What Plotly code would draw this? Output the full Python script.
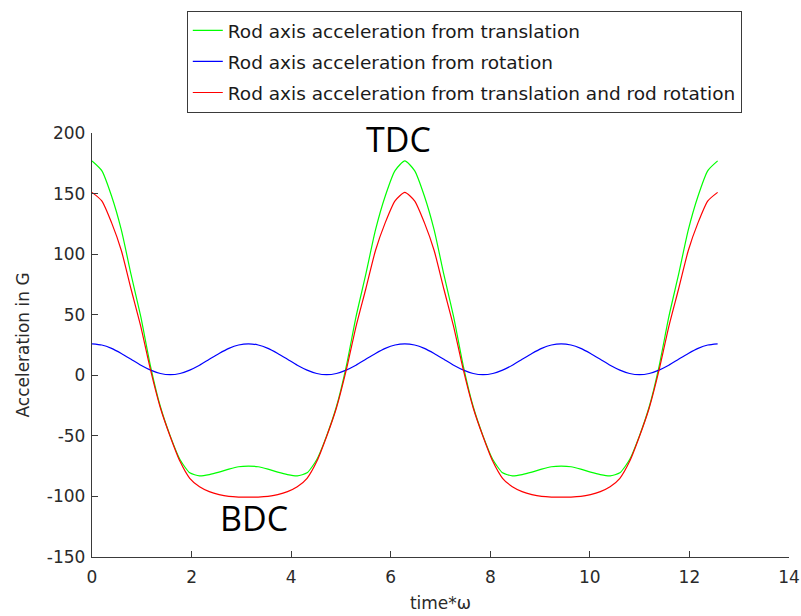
import numpy as np
import plotly.graph_objects as go

# angle samples (time*omega), step pi/16 over two revolutions
time_omega = [k * np.pi / 16 for k in range(65)]

accel_translation = [
    177, 169, 148, 120, 83, 48, 7, -26, -50, -69.5, -80.5, -83, -82, -80, -77.5, -75.5, -75,
    -75.5, -77.5, -80, -82, -83, -80.5, -69.5, -50, -26, 7, 48, 83, 120, 148, 169, 177,
    169, 148, 120, 83, 48, 7, -26, -50, -69.5, -80.5, -83, -82, -80, -77.5, -75.5, -75,
    -75.5, -77.5, -80, -82, -83, -80.5, -69.5, -50, -26, 7, 48, 83, 120, 148, 169, 177,
]
accel_rotation = [
    26, 25, 22.2, 18, 13.2, 8.3, 4.3, 1.5, 0.5, 1.5, 4.3, 8.3, 13.2, 18, 22.2, 25, 26,
    25, 22.2, 18, 13.2, 8.3, 4.3, 1.5, 0.5, 1.5, 4.3, 8.3, 13.2, 18, 22.2, 25, 26,
    25, 22.2, 18, 13.2, 8.3, 4.3, 1.5, 0.5, 1.5, 4.3, 8.3, 13.2, 18, 22.2, 25, 26,
    25, 22.2, 18, 13.2, 8.3, 4.3, 1.5, 0.5, 1.5, 4.3, 8.3, 13.2, 18, 22.2, 25, 26,
]
accel_combined = [
    151, 144, 126, 103, 71, 40, 4, -27, -50.5, -71, -85, -92, -96, -98.5, -100, -100.5, -100.5,
    -100.5, -100, -98.5, -96, -92, -85, -71, -50.5, -27, 4, 40, 71, 103, 126, 144, 151,
    144, 126, 103, 71, 40, 4, -27, -50.5, -71, -85, -92, -96, -98.5, -100, -100.5, -100.5,
    -100.5, -100, -98.5, -96, -92, -85, -71, -50.5, -27, 4, 40, 71, 103, 126, 144, 151,
]

series_names = [
    "Rod axis acceleration from translation",
    "Rod axis acceleration from rotation",
    "Rod axis acceleration from translation and rod rotation",
]
series_values = [accel_translation, accel_rotation, accel_combined]
series_colors = ["#00ff00", "#0000ff", "#ff0000"]

x_ticks = [0, 2, 4, 6, 8, 10, 12, 14]
y_ticks = [-150, -100, -50, 0, 50, 100, 150, 200]
y_tick_labels = ["-150", "-100", "-50", "0", "50", "100", "150", "200"]

FONT = "DejaVu Sans, Liberation Sans, Arial"

fig = go.Figure()
for i, (name, vals, col) in enumerate(zip(series_names, series_values, series_colors)):
    fig.add_trace(go.Scatter(
        x=time_omega, y=vals, mode="lines", name=name,
        legendgroup=f"g{i}",
        line=dict(color=col, width=1.2, shape="spline", smoothing=0.6),
    ))

axis_common = dict(
    showline=True, linecolor="#3a3a3a", linewidth=1.3,
    ticks="inside", ticklen=6, tickcolor="#3a3a3a", tickwidth=1.3,
    showgrid=False, zeroline=False, mirror=False, automargin=False,
    tickfont=dict(family=FONT, size=17, color="#2a2a2a"),
    title_font=dict(family=FONT, size=17, color="#2a2a2a"),
)

fig.update_layout(
    width=801, height=616,
    margin=dict(l=92, r=12, t=133, b=59, autoexpand=False),
    paper_bgcolor="white", plot_bgcolor="white",
    showlegend=True,
    legend=dict(
        x=0.136, y=1.288, xanchor="left", yanchor="top",
        bordercolor="#3a3a3a", borderwidth=1, bgcolor="white",
        font=dict(family=FONT, size=18.5, color="#1a1a1a"),
        tracegroupgap=4,
    ),
    xaxis=dict(range=[0, 14], tickvals=x_ticks, ticklabelstandoff=4,
               title=dict(text="time*ω", standoff=11), **axis_common),
    yaxis=dict(range=[-150, 200], tickvals=y_ticks, ticktext=y_tick_labels,
               ticklabelstandoff=2,
               title=dict(text="Acceleration in G", standoff=12), **axis_common),
    annotations=[
        dict(x=6.15, y=195, xref="x", yref="y", text="TDC", showarrow=False,
             font=dict(family="Open Sans, Noto Sans", size=34, color="black")),
        dict(x=3.26, y=-118, xref="x", yref="y", text="BDC", showarrow=False,
             font=dict(family="Open Sans, Noto Sans", size=34, color="black")),
    ],
)

fig.write_html(
    "out.html",
    config={"displayModeBar": False},
    post_script="document.body.style.margin='0';document.body.style.overflow='hidden';",
)
